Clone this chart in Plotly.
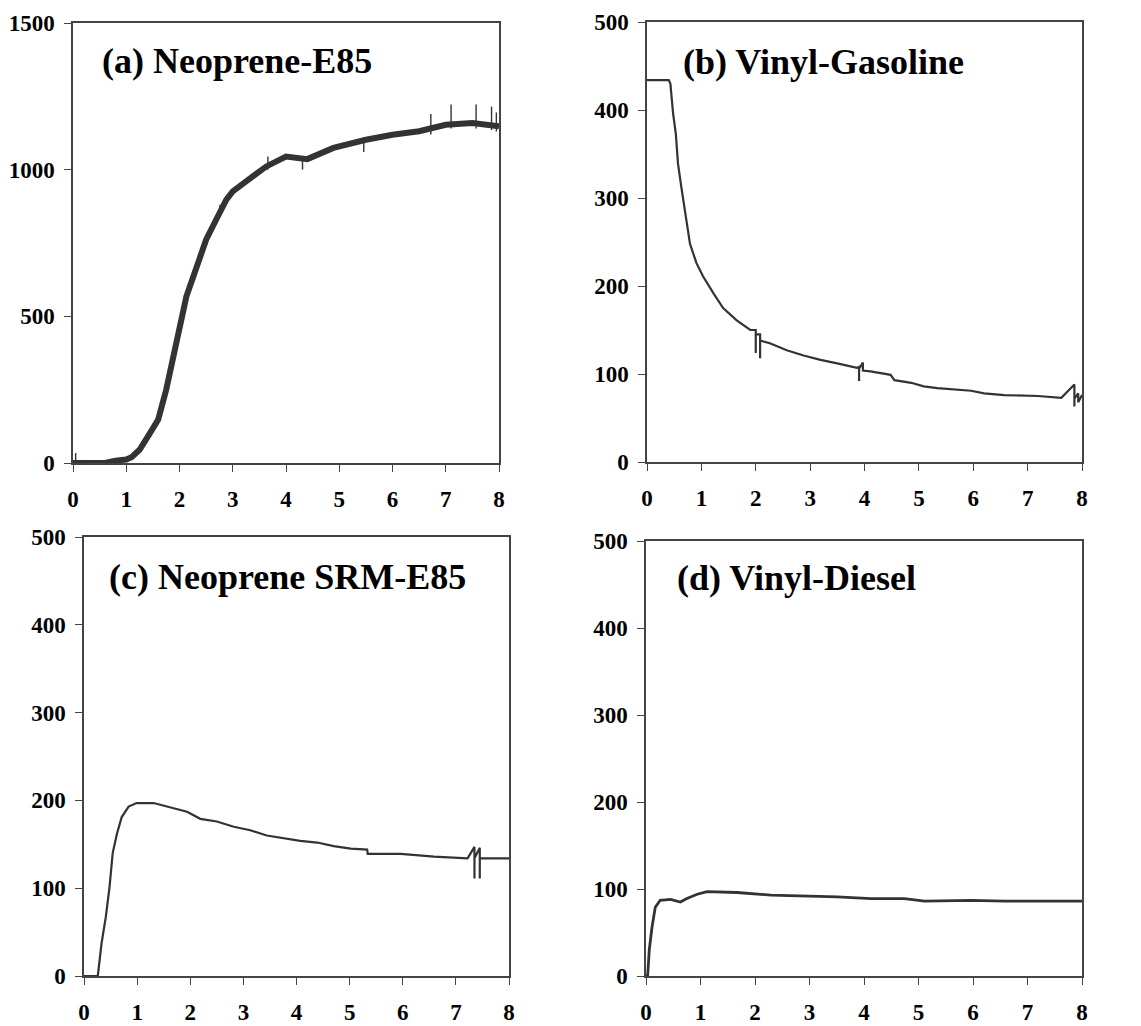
import plotly.graph_objects as go

# ---- data ----
a_x = [0, 0.2, 0.6, 0.8, 1.0, 1.1, 1.25, 1.44, 1.6, 1.75, 1.88, 2.0, 2.13,
       2.26, 2.38, 2.5, 2.69, 2.88, 3.0, 3.32, 3.63, 4.0, 4.4, 4.89, 5.5, 6.0, 6.5, 7.0, 7.5, 8.0]
a_y = [0, 0, 0, 8, 12, 20, 45, 100, 148, 250, 352, 466, 568,
       636, 705, 761, 830, 898, 926, 972, 1011, 1045, 1036, 1074, 1102, 1119, 1131, 1153, 1159, 1148]
# isolated spikes in (a): position, low end, high end
a_spike_x = [0.05, 0.2, 2.76, 3.66, 4.31, 5.46, 6.72, 7.1, 7.57, 7.86, 7.95]
a_spike_lo = [0, 0, 840, 1000, 1000, 1060, 1120, 1140, 1140, 1135, 1130]
a_spike_hi = [34, 8, 880, 1045, 1045, 1108, 1190, 1222, 1222, 1215, 1195]

b_x = [0, 0.4, 0.43, 0.48, 0.53, 0.57, 0.63, 0.70, 0.79, 0.91, 1.03, 1.22, 1.40, 1.65, 1.90, 2.0, 2.0, 2.0,
       2.08, 2.08, 2.08, 2.26, 2.57, 2.88, 3.19, 3.50, 3.86, 3.9, 3.9, 3.9, 3.97, 3.97, 4.11, 4.48, 4.55, 4.86,
       5.09, 5.34, 5.96, 6.20, 6.57, 7.19, 7.62, 7.86, 7.86, 7.86, 7.93, 7.93, 8.0]
b_y = [434, 434, 430, 396, 373, 339, 313, 286, 248, 226, 211, 192, 175, 161, 150, 150, 124, 145,
       145, 118, 138, 135, 127, 121, 116, 112, 107, 108, 92, 106, 113, 104, 103, 99, 93, 90,
       86, 84, 81, 78, 76, 75, 73, 88, 63, 72, 78, 68, 76]

c_x = [0, 0.26, 0.33, 0.41, 0.48, 0.54, 0.62, 0.71, 0.84, 0.99, 1.31, 1.56, 1.94, 2.19, 2.50, 2.82, 3.13,
       3.44, 3.76, 4.07, 4.39, 4.70, 5.02, 5.33, 5.34, 5.96, 6.59, 7.22, 7.35, 7.35, 7.35, 7.45, 7.45, 7.45, 8.0]
c_y = [0, 0, 37, 67, 101, 140, 162, 181, 193, 197, 197, 193, 187, 179, 176, 170, 166,
       160, 157, 154, 152, 148, 145, 144, 139, 139, 136, 134, 147, 111, 134, 146, 111, 134, 134]

d_x = [0, 0.03, 0.06, 0.11, 0.17, 0.26, 0.45, 0.63, 0.75, 0.94, 1.12, 1.67, 2.29, 2.90, 3.51, 4.13, 4.74,
       5.11, 5.97, 6.58, 8.0]
d_y = [0, 0, 30, 56, 79, 87, 88, 85, 89, 94, 97, 96, 93, 92, 91, 89, 89,
       86, 87, 86, 86]

titles = ["(a) Neoprene-E85", "(b) Vinyl-Gasoline", "(c) Neoprene SRM-E85", "(d) Vinyl-Diesel"]
x_ticks = [0, 1, 2, 3, 4, 5, 6, 7, 8]
y_ticks_a = [0, 500, 1000, 1500]
y_ticks_other = [0, 100, 200, 300, 400, 500]

# page is offset by the default 8px body margin; work in page pixels and shift
OFF = 8
W, H = 1141 - OFF, 1026 - OFF
# plot areas in page pixels: (left, right, top, bottom)
boxes = [(73, 499, 23, 463), (647, 1082, 22, 462), (84, 509, 537, 976), (646, 1082, 541, 976)]
title_pos = [(100, 61), (681, 62), (107, 577), (675, 578)]
series = [(a_x, a_y, 6.0), (b_x, b_y, 2.2), (c_x, c_y, 2.2), (d_x, d_y, 2.8)]
yranges = [(0, 1500), (0, 500), (0, 500), (0, 500)]
yticks = [y_ticks_a, y_ticks_other, y_ticks_other, y_ticks_other]

FONT = "Liberation Serif, Times New Roman, serif"
LINE = "#333333"
AX = "#444444"

fig = go.Figure()
layout = dict(width=W, height=H, margin=dict(l=0, r=0, t=0, b=0, autoexpand=False),
              paper_bgcolor="white", plot_bgcolor="white", showlegend=False)
annotations = []
for i, ((xs, ys, lw), (l, r, t, b)) in enumerate(zip(series, boxes)):
    l, r, t, b = l - OFF, r - OFF, t - OFF, b - OFF
    n = "" if i == 0 else str(i + 1)
    fig.add_trace(go.Scatter(x=xs, y=ys, mode="lines", line=dict(color=LINE, width=lw),
                             xaxis="x" + n, yaxis="y" + n, hoverinfo="skip"))
    common = dict(showline=True, linecolor=AX, linewidth=1.5, mirror=True, showgrid=False,
                  zeroline=False, ticks="outside", ticklen=7, tickwidth=1.2, tickcolor=AX,
                  automargin=False,
                  tickfont=dict(family=FONT, size=23, color="black", weight="bold"))
    layout["xaxis" + n] = dict(domain=[l / W, r / W], anchor="y" + n, range=[0, 8],
                               tickvals=x_ticks, ticklabelstandoff=8, **common)
    layout["yaxis" + n] = dict(domain=[1 - b / H, 1 - t / H], anchor="x" + n, range=list(yranges[i]),
                               tickvals=yticks[i], ticklabelstandoff=5, **common)
    tx, ty = title_pos[i]
    tx, ty = tx - OFF, ty - OFF
    annotations.append(dict(text=titles[i], xref="paper", yref="paper", x=tx / W, y=1 - ty / H,
                            xanchor="left", yanchor="middle", showarrow=False,
                            font=dict(family=FONT, size=36, color="black", weight="bold")))

# thin spikes for panel (a)
sx, sy = [], []
for x0, lo, hi in zip(a_spike_x, a_spike_lo, a_spike_hi):
    sx += [x0, x0, None]
    sy += [lo, hi, None]
fig.add_trace(go.Scatter(x=sx, y=sy, mode="lines", line=dict(color=LINE, width=1.4),
                         xaxis="x", yaxis="y", hoverinfo="skip", connectgaps=False))

layout["annotations"] = annotations
fig.update_layout(**layout)
fig.write_html("out.html")
